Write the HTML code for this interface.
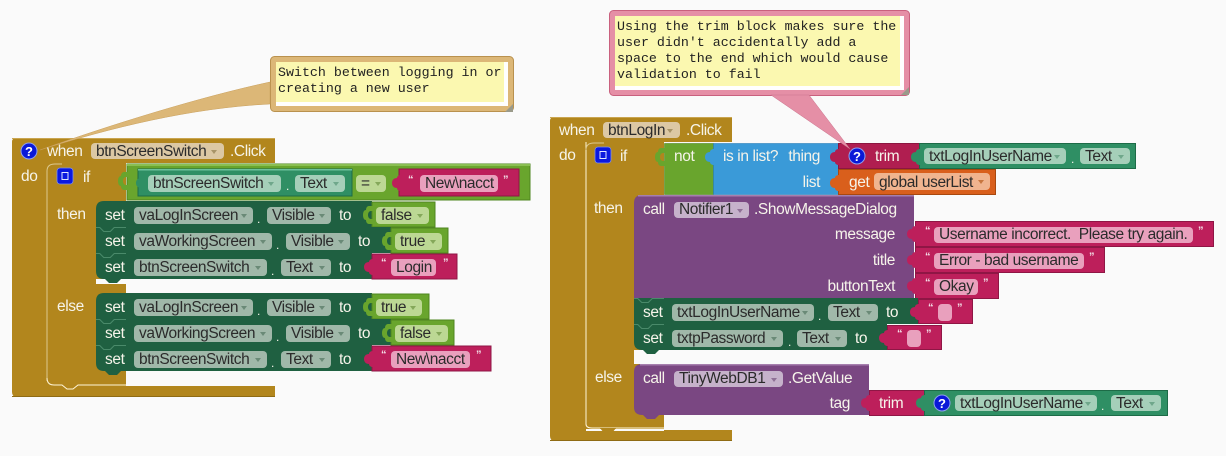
<!DOCTYPE html>
<html><head><meta charset="utf-8"><style>
html,body{margin:0;padding:0;background:#fafafa;width:1226px;height:456px;overflow:hidden}
svg{display:block}
text{font-family:"Liberation Sans",sans-serif;font-size:15.5px;letter-spacing:-.4px;fill:#f6f4ea}
.d{fill:#2b2b2b}
.e{text-anchor:end}
.m{font-family:"Liberation Mono",monospace;font-size:13.3px;letter-spacing:0;fill:#222}
.q{font-size:11px;font-weight:bold;letter-spacing:0;fill:#f3e4ea}
.i{font-weight:bold;font-size:13px;letter-spacing:0;text-anchor:middle;fill:#fff}
.p{font-size:12px}
</style></head><body>
<svg width="1226" height="456" viewBox="0 0 1226 456" xmlns="http://www.w3.org/2000/svg">
<defs>
<path id="g" d="M1 0H-3C-5 0-6 2-6 4C-8 4-9 6-9 9C-9 12-8 14-6 14C-6 16-5 18-3 18H1V13H-1C-3 13-4 11-4 9C-4 7-3 5-1 5H1Z"/>
<path id="t" d="M1 1C-1 1-3 2-3 4C-6 4-8 6-8 9C-8 12-6 14-3 14C-3 16-1 17 1 17Z"/>
<path id="a" d="M0 0H6L3 4Z"/>
<path id="n" d="M0 0H4L8 4H14L18 0H30V1H18.500L14.500 5H7.500L3.500 1H0Z"/>
</defs>
<rect width="1226" height="456" fill="#fafafa"/>

<!-- LEFT comment box -->
<rect x="270.500" y="56.500" width="243" height="55" rx="4" fill="#dcb777" stroke="#b9914e"/>
<rect x="276" y="62" width="232" height="44" fill="#fff"/>
<rect x="276" y="62" width="228" height="40" fill="#fbf8b0"/>
<path d="M513 104V112H505Z" fill="#9a9a8a"/>
<text class="m" x="278" y="76">Switch between logging in or</text>
<text class="m" x="278" y="92">creating a new user</text>

<!-- LEFT when -->
<path d="M16 138H275V163H126V386H275V397H17Q12 397 12 392V142Q12 138 16 138Z" fill="#b2861d"/>
<rect x="12" y="138" width="263" height="1" fill="#c9a550"/>
<rect x="12" y="396" width="263" height="1" fill="#8f6b14"/>
<path d="M47 384V171Q47 163 55 163H126V284H96V293H126V384H78L73 389H67L62 384Z" fill="#b2861d"/>
<path d="M47 381V171Q47 164 55 164H62" fill="none" stroke="#dcc88e" stroke-width="1"/>
<path d="M47 378Q47 385 54 385H62L67 389H73L78 385H126" fill="none" stroke="#fff5d8" stroke-width="1"/>
<rect x="96" y="279" width="30" height="5" fill="#fafafa"/>
<path d="M270 82C200 97 110 125 40 150C110 128 190 108 270 104Z" fill="#dcb777" stroke="#c9a05c" stroke-width=".5"/>
<circle cx="29" cy="151" r="8" fill="#0a18d8" stroke="#8fa0ee" stroke-width="1"/>
<text class="i" x="29" y="156">?</text>
<text x="47" y="156">when</text>
<rect x="91" y="143" width="133" height="16" rx="4" fill="#dcc8a4"/>
<text class="d" x="96" y="156">btnScreenSwitch</text>
<use href="#a" x="211" y="150" fill="#a89468"/>
<text x="230" y="156">.Click</text>
<text x="21" y="181">do</text>
<rect x="57" y="168" width="16" height="16" rx="3" fill="#0a18e0" stroke="#7f90e8" stroke-width=".8"/>
<rect x="62" y="172.500" width="6" height="7" fill="none" stroke="#dfe4ff" stroke-width="1"/>
<text x="83" y="182">if</text>
<text x="57" y="219">then</text>
<text x="57" y="311">else</text>

<!-- = block -->
<rect x="127" y="164" width="403" height="36" fill="#69a52d" stroke="#4f8520"/>
<rect x="127" y="164" width="403" height="2" fill="#8abf52"/>
<use href="#g" x="127" y="172" fill="#69a52d"/>
<rect x="138" y="169" width="214" height="27" fill="#2f8f64" stroke="#1d6b47"/>
<rect x="138" y="169" width="214" height="1.500" fill="#6cc19b"/>
<use href="#t" x="144" y="174" fill="#2f8f64"/>
<rect x="148" y="175" width="133" height="17" rx="4" fill="#a5cfb9"/>
<text class="d" x="153" y="188">btnScreenSwitch</text>
<use href="#a" x="268" y="182" fill="#6fa78b"/>
<text class="p" x="286" y="190">.</text>
<rect x="295" y="175" width="50" height="17" rx="4" fill="#a5cfb9"/>
<text class="d" x="300" y="188">Text</text>
<use href="#a" x="333" y="182" fill="#6fa78b"/>
<rect x="356" y="175" width="30" height="17" rx="4" fill="#bcd894"/>
<text class="d" x="361" y="188">=</text>
<use href="#a" x="375" y="182" fill="#85a85a"/>
<rect x="399" y="169" width="120" height="27" fill="#bd1f5b" stroke="#8f1645"/>
<use href="#t" x="400" y="174" fill="#bd1f5b"/>
<text class="q" x="408" y="183">“</text>
<rect x="420" y="175" width="78" height="17" rx="4" fill="#e9a0bd"/>
<text class="d" x="425" y="188">New\nacct</text>
<text class="q" x="503" y="183">”</text>

<!-- then rows -->
<path d="M104 201H372V227H96V209Q96 201 104 201Z" fill="#1f6041"/>
<rect x="372" y="202" width="63" height="25" fill="#69a52d" stroke="#4f8520"/>
<use href="#g" x="372" y="206" fill="#69a52d"/>
<text x="105" y="220">set</text>
<rect x="134" y="207" width="119" height="17" rx="4" fill="#a0b8a9"/>
<text class="d" x="139" y="220">vaLogInScreen</text>
<use href="#a" x="241" y="214" fill="#6a8a77"/>
<text class="p" x="257" y="223">.</text>
<rect x="267" y="207" width="64" height="17" rx="4" fill="#a0b8a9"/>
<text class="d" x="272" y="220">Visible</text>
<use href="#a" x="319" y="214" fill="#6a8a77"/>
<text x="339" y="220">to</text>
<rect x="376" y="207" width="53" height="17" rx="4" fill="#bcd894"/>
<text class="d" x="381" y="220">false</text>
<use href="#a" x="417" y="214" fill="#85a85a"/>

<rect x="96" y="227" width="295" height="26" fill="#1f6041"/>
<rect x="391" y="228" width="57" height="25" fill="#69a52d" stroke="#4f8520"/>
<use href="#g" x="391" y="232" fill="#69a52d"/>
<use href="#n" x="96" y="227" fill="#4a8a6a"/>
<text x="105" y="246">set</text>
<rect x="134" y="233" width="138" height="17" rx="4" fill="#a0b8a9"/>
<text class="d" x="139" y="246">vaWorkingScreen</text>
<use href="#a" x="260" y="240" fill="#6a8a77"/>
<text class="p" x="276" y="249">.</text>
<rect x="286" y="233" width="64" height="17" rx="4" fill="#a0b8a9"/>
<text class="d" x="291" y="246">Visible</text>
<use href="#a" x="338" y="240" fill="#6a8a77"/>
<text x="358" y="246">to</text>
<rect x="395" y="233" width="47" height="17" rx="4" fill="#bcd894"/>
<text class="d" x="400" y="246">true</text>
<use href="#a" x="430" y="240" fill="#85a85a"/>

<path d="M96 253H372V279H121L117 283H109L105 279H104Q96 279 96 271Z" fill="#1f6041"/>
<rect x="372" y="254" width="85" height="25" fill="#bd1f5b" stroke="#8f1645"/>
<use href="#t" x="372" y="258" fill="#bd1f5b"/>
<use href="#n" x="96" y="253" fill="#4a8a6a"/>
<text x="105" y="272">set</text>
<rect x="134" y="259" width="133" height="17" rx="4" fill="#a0b8a9"/>
<text class="d" x="139" y="272">btnScreenSwitch</text>
<use href="#a" x="255" y="266" fill="#6a8a77"/>
<text class="p" x="271" y="275">.</text>
<rect x="281" y="259" width="50" height="17" rx="4" fill="#a0b8a9"/>
<text class="d" x="286" y="272">Text</text>
<use href="#a" x="319" y="266" fill="#6a8a77"/>
<text x="339" y="272">to</text>
<text class="q" x="381" y="266">“</text>
<rect x="391" y="259" width="45" height="17" rx="4" fill="#e9a0bd"/>
<text class="d" x="396" y="272">Login</text>
<text class="q" x="443" y="266">”</text>

<!-- else rows -->
<path d="M104 293H372V319H96V301Q96 293 104 293Z" fill="#1f6041"/>
<rect x="372" y="294" width="57" height="25" fill="#69a52d" stroke="#4f8520"/>
<use href="#g" x="372" y="298" fill="#69a52d"/>
<text x="105" y="312">set</text>
<rect x="134" y="299" width="119" height="17" rx="4" fill="#a0b8a9"/>
<text class="d" x="139" y="312">vaLogInScreen</text>
<use href="#a" x="241" y="306" fill="#6a8a77"/>
<text class="p" x="257" y="315">.</text>
<rect x="267" y="299" width="64" height="17" rx="4" fill="#a0b8a9"/>
<text class="d" x="272" y="312">Visible</text>
<use href="#a" x="319" y="306" fill="#6a8a77"/>
<text x="339" y="312">to</text>
<rect x="376" y="299" width="46" height="17" rx="4" fill="#bcd894"/>
<text class="d" x="381" y="312">true</text>
<use href="#a" x="410" y="306" fill="#85a85a"/>

<rect x="96" y="319" width="295" height="26" fill="#1f6041"/>
<rect x="391" y="320" width="63" height="25" fill="#69a52d" stroke="#4f8520"/>
<use href="#g" x="391" y="324" fill="#69a52d"/>
<use href="#n" x="96" y="319" fill="#4a8a6a"/>
<text x="105" y="338">set</text>
<rect x="134" y="325" width="138" height="17" rx="4" fill="#a0b8a9"/>
<text class="d" x="139" y="338">vaWorkingScreen</text>
<use href="#a" x="260" y="332" fill="#6a8a77"/>
<text class="p" x="276" y="341">.</text>
<rect x="286" y="325" width="64" height="17" rx="4" fill="#a0b8a9"/>
<text class="d" x="291" y="338">Visible</text>
<use href="#a" x="338" y="332" fill="#6a8a77"/>
<text x="358" y="338">to</text>
<rect x="395" y="325" width="53" height="17" rx="4" fill="#bcd894"/>
<text class="d" x="400" y="338">false</text>
<use href="#a" x="436" y="332" fill="#85a85a"/>

<path d="M96 345H372V371H121L117 375H109L105 371H104Q96 371 96 363Z" fill="#1f6041"/>
<rect x="372" y="346" width="119" height="25" fill="#bd1f5b" stroke="#8f1645"/>
<use href="#t" x="372" y="350" fill="#bd1f5b"/>
<use href="#n" x="96" y="345" fill="#4a8a6a"/>
<text x="105" y="364">set</text>
<rect x="134" y="351" width="133" height="17" rx="4" fill="#a0b8a9"/>
<text class="d" x="139" y="364">btnScreenSwitch</text>
<use href="#a" x="255" y="358" fill="#6a8a77"/>
<text class="p" x="271" y="367">.</text>
<rect x="281" y="351" width="50" height="17" rx="4" fill="#a0b8a9"/>
<text class="d" x="286" y="364">Text</text>
<use href="#a" x="319" y="358" fill="#6a8a77"/>
<text x="339" y="364">to</text>
<text class="q" x="381" y="358">“</text>
<rect x="391" y="351" width="79" height="17" rx="4" fill="#e9a0bd"/>
<text class="d" x="396" y="364">New\nacct</text>
<text class="q" x="476" y="358">”</text>

<!-- RIGHT comment box -->
<rect x="609.500" y="10.500" width="300" height="85" rx="4" fill="#e58fa6" stroke="#c9607e"/>
<rect x="615" y="16" width="289" height="74" fill="#fff"/>
<rect x="615" y="16" width="285" height="70" fill="#fbf8b0"/>
<path d="M909 87V95H901Z" fill="#9a9a8a"/>
<text class="m" x="617" y="30">Using the trim block makes sure the</text>
<text class="m" x="617" y="46">user didn't accidentally add a</text>
<text class="m" x="617" y="62">space to the end which would cause</text>
<text class="m" x="617" y="78">validation to fail</text>

<!-- RIGHT when -->
<path d="M554 117H732V142H664V350H634V364H664V430H732V441H555Q550 441 550 436V121Q550 117 554 117Z" fill="#b2861d"/>
<rect x="550" y="117" width="182" height="1" fill="#c9a550"/>
<rect x="550" y="440" width="182" height="1" fill="#8f6b14"/>
<path d="M586 142V424Q586 428 592 428H664" fill="none" stroke="#fff5d8" stroke-width="1"/>
<path d="M586 150Q586 143 594 143H604" fill="none" stroke="#dcc88e" stroke-width="1"/>
<rect x="586" y="429" width="78" height="2" fill="#fafafa"/>
<path d="M600 428L604 433H612L616 428Z" fill="#b2861d"/>
<text x="559" y="135">when</text>
<rect x="603" y="122" width="77" height="16" rx="4" fill="#dcc8a4"/>
<text class="d" x="608" y="135">btnLogIn</text>
<use href="#a" x="667" y="129" fill="#a89468"/>
<text x="686" y="135">.Click</text>
<text x="559" y="160">do</text>
<rect x="595" y="147" width="16" height="16" rx="3" fill="#0a18e0" stroke="#7f90e8" stroke-width=".8"/>
<rect x="600" y="151.500" width="6" height="7" fill="none" stroke="#dfe4ff" stroke-width="1"/>
<text x="620" y="161">if</text>
<text x="594" y="213">then</text>
<text x="595" y="382">else</text>

<!-- not / is in list -->
<rect x="664.500" y="143.500" width="49" height="51" fill="#69a52d" stroke="#4f8520" stroke-width=".6"/>
<use href="#g" x="664" y="148" fill="#69a52d"/>
<text x="674" y="161">not</text>
<rect x="713.500" y="143.500" width="125" height="51" fill="#3a9ad8" stroke="#2b7fb8" stroke-width=".6"/>
<use href="#t" x="713" y="148" fill="#3a9ad8"/>
<text x="723" y="161">is in list?</text>
<text class="e" x="820" y="161">thing</text>
<text class="e" x="820" y="187">list</text>

<!-- trim -->
<rect x="838.500" y="143.500" width="81" height="25" fill="#b01e50" stroke="#8c1640"/>
<use href="#t" x="838" y="148" fill="#b01e50"/>
<circle cx="857" cy="156" r="8" fill="#0a18d8" stroke="#8fa0ee" stroke-width="1"/>
<text class="i" x="857" y="161">?</text>
<text x="875" y="161">trim</text>
<rect x="919.500" y="143.500" width="216" height="25" fill="#2f8f64" stroke="#1d6b47"/>
<use href="#t" x="919" y="148" fill="#2f8f64"/>
<rect x="924" y="148" width="142" height="16" rx="4" fill="#a5cfb9"/>
<text class="d" x="929" y="161">txtLogInUserName</text>
<use href="#a" x="1054" y="155" fill="#6fa78b"/>
<text class="p" x="1071" y="163">.</text>
<rect x="1080" y="148" width="50" height="16" rx="4" fill="#a5cfb9"/>
<text class="d" x="1085" y="161">Text</text>
<use href="#a" x="1118" y="155" fill="#6fa78b"/>
<path d="M771 95L850 149L809 95Z" fill="#e58fa6" stroke="#c9738c" stroke-width=".5"/>

<!-- get -->
<rect x="838.500" y="169.500" width="157" height="25" fill="#d95f1c" stroke="#a8480f"/>
<use href="#t" x="838" y="174" fill="#d95f1c"/>
<text x="849" y="187">get</text>
<rect x="874" y="173" width="116" height="17" rx="4" fill="#f0b48f"/>
<text class="d" x="879" y="187">global userList</text>
<use href="#a" x="978" y="180" fill="#c8763f"/>

<!-- call Notifier -->
<path d="M642 195H914V298H634V203Q634 195 642 195Z" fill="#7a4782"/>
<rect x="638" y="195" width="276" height="1.500" fill="#a67fae"/>
<text x="643" y="214">call</text>
<rect x="674" y="202" width="75" height="16" rx="4" fill="#c6b2cb"/>
<text class="d" x="679" y="214">Notifier1</text>
<use href="#a" x="737" y="209" fill="#8f7096"/>
<text x="754" y="214">.ShowMessageDialog</text>
<text class="e" x="895" y="239">message</text>
<text class="e" x="895" y="265">title</text>
<text class="e" x="895" y="291">buttonText</text>

<rect x="915.500" y="221.500" width="298" height="25" fill="#bd1f5b" stroke="#8f1645"/>
<use href="#t" x="915" y="225" fill="#bd1f5b"/>
<text class="q" x="925" y="234">“</text>
<rect x="934" y="227" width="259" height="16" rx="4" fill="#e9a0bd"/>
<text class="d" x="939" y="239" xml:space="preserve">Username incorrect.  Please try again.</text>
<text class="q" x="1198" y="234">”</text>

<rect x="915.500" y="247.500" width="189" height="25" fill="#bd1f5b" stroke="#8f1645"/>
<use href="#t" x="915" y="251" fill="#bd1f5b"/>
<text class="q" x="925" y="260">“</text>
<rect x="934" y="253" width="150" height="16" rx="4" fill="#e9a0bd"/>
<text class="d" x="939" y="265">Error - bad username</text>
<text class="q" x="1089" y="260">”</text>

<rect x="915.500" y="273.500" width="83" height="25" fill="#bd1f5b" stroke="#8f1645"/>
<use href="#t" x="915" y="277" fill="#bd1f5b"/>
<text class="q" x="925" y="286">“</text>
<rect x="934" y="279" width="44" height="16" rx="4" fill="#e9a0bd"/>
<text class="d" x="939" y="291">Okay</text>
<text class="q" x="983" y="286">”</text>

<!-- set rows right -->
<rect x="634" y="298" width="284" height="26" fill="#1f6041"/>
<rect x="918.500" y="299.500" width="54" height="24" fill="#bd1f5b" stroke="#8f1645"/>
<use href="#t" x="918" y="303" fill="#bd1f5b"/>
<use href="#n" x="634" y="298" fill="#4a8a6a"/>
<text x="643" y="317">set</text>
<rect x="672" y="304" width="142" height="17" rx="4" fill="#a0b8a9"/>
<text class="d" x="677" y="317">txtLogInUserName</text>
<use href="#a" x="802" y="311" fill="#6a8a77"/>
<text class="p" x="818" y="320">.</text>
<rect x="828" y="304" width="50" height="17" rx="4" fill="#a0b8a9"/>
<text class="d" x="833" y="317">Text</text>
<use href="#a" x="866" y="311" fill="#6a8a77"/>
<text x="886" y="317">to</text>
<text class="q" x="928" y="311">“</text>
<rect x="938" y="304" width="14" height="17" rx="4" fill="#e9a0bd"/>
<text class="q" x="957" y="311">”</text>

<path d="M634 324H887V350H659L655 354H647L643 350H642Q634 350 634 342Z" fill="#1f6041"/>
<rect x="887.500" y="325.500" width="54" height="24" fill="#bd1f5b" stroke="#8f1645"/>
<use href="#t" x="887" y="329" fill="#bd1f5b"/>
<use href="#n" x="634" y="324" fill="#4a8a6a"/>
<text x="643" y="343">set</text>
<rect x="672" y="330" width="111" height="17" rx="4" fill="#a0b8a9"/>
<text class="d" x="677" y="343">txtpPassword</text>
<use href="#a" x="771" y="337" fill="#6a8a77"/>
<text class="p" x="788" y="346">.</text>
<rect x="797" y="330" width="50" height="17" rx="4" fill="#a0b8a9"/>
<text class="d" x="802" y="343">Text</text>
<use href="#a" x="835" y="337" fill="#6a8a77"/>
<text x="855" y="343">to</text>
<text class="q" x="897" y="337">“</text>
<rect x="907" y="330" width="14" height="17" rx="4" fill="#e9a0bd"/>
<text class="q" x="926" y="337">”</text>

<!-- call TinyWebDB -->
<path d="M642 364H869V415H659L655 419H647L643 415H642Q634 415 634 407V372Q634 364 642 364Z" fill="#7a4782"/>
<rect x="640" y="364" width="229" height="1.500" fill="#a67fae"/>
<text x="643" y="383">call</text>
<rect x="674" y="371" width="109" height="16" rx="4" fill="#c6b2cb"/>
<text class="d" x="679" y="383">TinyWebDB1</text>
<use href="#a" x="771" y="378" fill="#8f7096"/>
<text x="788" y="383">.GetValue</text>
<text class="e" x="850" y="408">tag</text>
<rect x="869.500" y="390.500" width="55" height="25" fill="#bd1f5b" stroke="#8f1645"/>
<use href="#t" x="869" y="394" fill="#bd1f5b"/>
<text x="879" y="408">trim</text>
<rect x="924.500" y="390.500" width="243" height="25" fill="#2f8f64" stroke="#1d6b47"/>
<use href="#t" x="924" y="394" fill="#2f8f64"/>
<circle cx="942" cy="403" r="8" fill="#0a18d8" stroke="#8fa0ee" stroke-width="1"/>
<text class="i" x="942" y="408">?</text>
<rect x="955" y="395" width="142" height="16" rx="4" fill="#a5cfb9"/>
<text class="d" x="960" y="408">txtLogInUserName</text>
<use href="#a" x="1085" y="402" fill="#6fa78b"/>
<text class="p" x="1101" y="410">.</text>
<rect x="1111" y="395" width="50" height="16" rx="4" fill="#a5cfb9"/>
<text class="d" x="1116" y="408">Text</text>
<use href="#a" x="1149" y="402" fill="#6fa78b"/>
</svg>
</body></html>
